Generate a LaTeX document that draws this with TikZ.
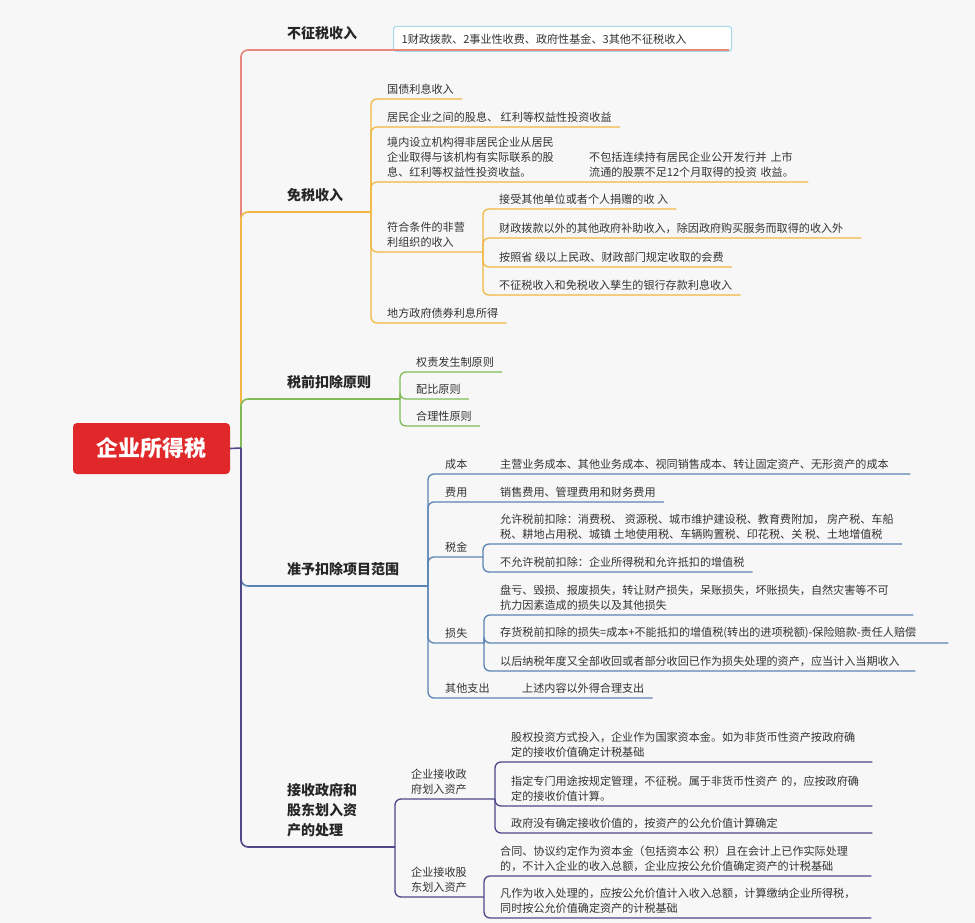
\documentclass[tikz,border=0pt]{standalone}
\usepackage{fontspec}
\setmainfont{Noto Sans CJK SC}
\usepackage{tikz}

\definecolor{bg}{HTML}{F7F7F7}
\definecolor{rootred}{HTML}{E0282A}
\definecolor{cred}{HTML}{E8877B}
\definecolor{corange}{HTML}{F0B742}
\definecolor{cgreen}{HTML}{7FBC58}
\definecolor{cblue}{HTML}{5A84B3}
\definecolor{cnavy}{HTML}{4E4889}
\definecolor{boxblue}{HTML}{A6DAEA}
\definecolor{txt}{HTML}{333333}

\begin{document}
\begin{tikzpicture}[x=1pt,y=-1pt,
	root/.style={fill=rootred, rounded corners=4pt, text=white, inner sep=0pt,
		minimum width=157pt, minimum height=51pt, font=\fontsize{22}{26}\selectfont\bfseries},
	title/.style={anchor=south west, inner xsep=8pt, inner ysep=10pt, align=left,
		text=black!85, font=\fontsize{14}{20}\selectfont\bfseries},
	leaf/.style={anchor=south west, inner xsep=8pt, inner ysep=4.5pt, align=left,
		text=txt, font=\fontsize{11.1}{15}\selectfont},
	bzbox/.style={draw=boxblue, fill=white, line width=1.2pt, rounded corners=3pt,
		text width=322pt, minimum height=25pt},
	branch/.style={line width=1.6pt, rounded corners=7pt},
	twig/.style={line width=1.3pt, rounded corners=6pt}]
	\fill[bg] (0,0) rectangle (975,923);
	\useasboundingbox (0,0) rectangle (975,923);

	\node[root] (root) at (151.5,448.5) {企业所得税};
	\coordinate (trunk) at (241,448);

	% 不征税收入
	\node[title] (bz) at (279,50) {不征税收入};
	\node[leaf, bzbox] (bz1) at (393,52) {1财政拨款、2事业性收费、政府性基金、3其他不征税收入};

	% 免税收入
	\node[title] (ms) at (279,212) {免税收入};
	\coordinate (ms-j) at (371,212);
	\node[leaf] (ms1) at (379,99) {国债利息收入};
	\node[leaf] (ms2) at (379,127) {居民企业之间的股息、~红利等权益性投资收益};
	\node[leaf] (ms3) at (379,182) {境内设立机构得非居民企业从居民\\企业取得与该机构有实际联系的股\\息、红利等权益性投资收益。};
	\node[leaf, text width=211pt] (ms3a) at (581,182) {不包括连续持有居民企业公开发行并~上市\\流通的股票不足12个月取得的投资~收益。};
	\node[leaf] (ms4) at (379,252) {符合条件的非营\\利组织的收入};
	\coordinate (ms4-j) at (483,252);
	\node[leaf] (ms41) at (491,209) {接受其他单位或者个人捐赠的收~入};
	\node[leaf, text width=354pt] (ms42) at (491,238) {财政拨款以外的其他政府补助收入，除因政府购买服务而取得的收入外};
	\node[leaf] (ms43) at (491,267) {按照省~级以上民政、财政部门规定收取的会费};
	\node[leaf] (ms44) at (491,295) {不征税收入和免税收入孳生的银行存款利息收入};
	\node[leaf] (ms5) at (379,323) {地方政府债券利息所得};

	% 税前扣除原则
	\node[title] (sq) at (279,399) {税前扣除原则};
	\coordinate (sq-j) at (400,399);
	\node[leaf] (sq1) at (408,372) {权责发生制原则};
	\node[leaf] (sq2) at (408,399) {配比原则};
	\node[leaf] (sq3) at (408,426) {合理性原则};

	% 准予扣除项目范围
	\node[title] (zy) at (279,586) {准予扣除项目范围};
	\coordinate (zy-j) at (428,586);
	\node[leaf] (cb) at (437,474) {成本};
	\node[leaf, text width=402pt] (cb1) at (492,474) {主营业务成本、其他业务成本、视同销售成本、转让固定资产、无形资产的成本};
	\node[leaf] (fy) at (437,502) {费用};
	\node[leaf] (fy1) at (492,502) {销售费用、管理费用和财务费用};
	\node[leaf] (sj) at (437,557) {税金};
	\coordinate (sj-j) at (483,557);
	\node[leaf] (sj1) at (492,544) {允许税前扣除：消费税、~资源税、城市维护建设税、教育费附加，~房产税、车船\\税、耕地占用税、城镇~土地使用税、车辆购置税、印花税、关~税、土地增值税};
	\node[leaf] (sj2) at (492,572) {不允许税前扣除：企业所得税和允许抵扣的增值税};
	\node[leaf] (ss) at (437,643) {损失};
	\coordinate (ss-j) at (484,643);
	\node[leaf, text width=405pt] (ss1) at (492,615) {盘亏、毁损、报废损失，转让财产损失，呆账损失，坏账损失，自然灾害等不可\\抗力因素造成的损失以及其他损失};
	\node[leaf, text width=440pt] (ss2) at (492,643) {存货税前扣除的损失=成本+不能抵扣的增值税(转出的进项税额)-保险赔款-责任人赔偿};
	\node[leaf, text width=407pt] (ss3) at (492,671) {以后纳税年度又全部收回或者部分收回已作为损失处理的资产，应当计入当期收入};
	\node[leaf] (qt) at (437,698) {其他支出};
	\node[leaf] (qt1) at (514,698) {上述内容以外得合理支出};

	% 接收政府和股东划入资产的处理
	\node[title] (js) at (279,847) {接收政府和\\股东划入资\\产的处理};
	\coordinate (js-j) at (395,847);
	\node[leaf] (zf) at (403,799) {企业接收政\\府划入资产};
	\coordinate (zf-j) at (495,799);
	\node[leaf, text width=353pt] (zf1) at (503,762) {股权投资方式投入，企业作为国家资本金。如为非货币性资产按政府确\\定的接收价值确定计税基础};
	\node[leaf, text width=353pt] (zf2) at (503,806) {指定专门用途按规定管理，不征税。属于非货币性资产~的，应按政府确\\定的接收价值计算。};
	\node[leaf, text width=353pt] (zf3) at (503,833) {政府没有确定接收价值的，按资产的公允价值计算确定};
	\node[leaf] (gd) at (403,897) {企业接收股\\东划入资产};
	\coordinate (gd-j) at (484,897);
	\node[leaf, text width=363pt] (gd1) at (492,876) {合同、协议约定作为资本金（包括资本公~积）且在会计上已作实际处理\\的，不计入企业的收入总额，企业应按公允价值确定资产的计税基础};
	\node[leaf, text width=363pt] (gd2) at (492,918) {凡作为收入处理的，应按公允价值计入收入总额，计算缴纳企业所得税，\\同时按公允价值确定资产的计税基础};

	\draw[branch, cred] (trunk) |- ([shift={(-3pt,2pt)}]bz1.south east);

	\draw[branch, corange] (trunk) |- (ms-j);
	\foreach \n in {ms1,ms2,ms5}
		\draw[twig, corange] (ms-j) |- (\n.south east);
	\draw[twig, corange] (ms-j) |- (ms3.south east) -- (ms3a.south east);
	\draw[twig, corange] (ms-j) |- (ms4.south east) -- (ms4-j);
	\foreach \n in {ms41,ms42,ms43,ms44}
		\draw[twig, corange] (ms4-j) |- (\n.south east);

	\draw[branch, cgreen] (trunk) |- (sq-j);
	\foreach \n in {sq1,sq2,sq3}
		\draw[twig, cgreen] (sq-j) |- (\n.south east);

	\draw[branch, cblue] (trunk) |- (zy-j);
	\draw[twig, cblue] (zy-j) |- (cb.south east) -- (cb1.south east);
	\draw[twig, cblue] (zy-j) |- (fy.south east) -- (fy1.south east);
	\draw[twig, cblue] (zy-j) |- (sj.south east) -- (sj-j);
	\foreach \n in {sj1,sj2}
		\draw[twig, cblue] (sj-j) |- (\n.south east);
	\draw[twig, cblue] (zy-j) |- (ss.south east) -- (ss-j);
	\foreach \n in {ss1,ss2,ss3}
		\draw[twig, cblue] (ss-j) |- (\n.south east);
	\draw[twig, cblue] (zy-j) |- (qt.south east) -- (qt1.south east);

	\draw[branch, cnavy] (trunk) |- (js-j);
	\draw[branch, cnavy, rounded corners=0pt] (root.east) -- (trunk);
	\draw[twig, cnavy] (js-j) |- (zf.south east) -- (zf-j);
	\foreach \n in {zf1,zf2,zf3}
		\draw[twig, cnavy] (zf-j) |- (\n.south east);
	\draw[twig, cnavy] (js-j) |- (gd.south east) -- (gd-j);
	\foreach \n in {gd1,gd2}
		\draw[twig, cnavy] (gd-j) |- (\n.south east);
\end{tikzpicture}
\end{document}
